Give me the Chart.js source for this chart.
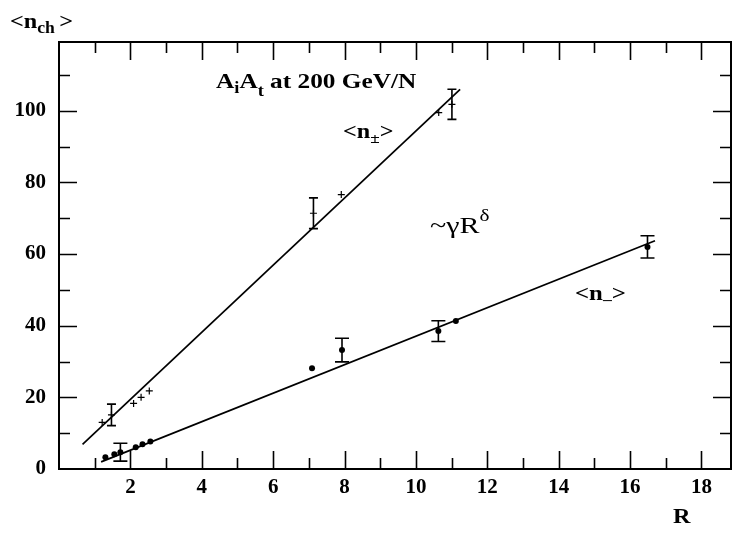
<!DOCTYPE html>
<html>
<head>
<meta charset="utf-8">
<script src="https://cdn.jsdelivr.net/npm/chart.js@4/dist/chart.umd.min.js"></script>
<style>
html,body{margin:0;padding:0;background:#ffffff;}
canvas{display:block;}
</style>
</head>
<body>
<canvas id="c" width="737" height="533"></canvas>
<script>
// ---- data ----
const plusR   = [1.21, 1.47, 2.09, 2.30, 2.53, 7.13, 7.91, 10.64, 11.01];
const plusV   = [13.0, 15.1, 18.3, 20.0, 21.8, 71.4, 76.6, 99.5, 101.8];
const plusErr = [0, 3.0, 0, 0, 0, 4.3, 0, 0, 4.2];

const minusR   = [1.30, 1.55, 1.72, 2.15, 2.34, 2.56, 7.09, 7.93, 10.63, 11.12, 16.49];
const minusV   = [3.3, 4.1, 4.7, 6.1, 6.9, 7.7, 28.1, 33.2, 38.5, 41.3, 62.0];
const minusErr = [0, 0, 2.5, 0, 0, 0, 0, 3.3, 2.9, 0, 3.1];

// fitted lines (end points)
const plusFitR  = [0.66, 11.24];
const plusFitV  = [6.9, 106.0];
const minusFitR = [1.18, 16.7];
const minusFitV = [2.0, 63.7];

const xTicks = [2, 4, 6, 8, 10, 12, 14, 16, 18];
const yTicks = [0, 20, 40, 60, 80, 100];

const toPts = (xs, ys) => xs.map((x, i) => ({x: x, y: ys[i]}));

const SERIF = "'Liberation Serif', 'DejaVu Serif', serif";

function drawRich(ctx, x, y, parts, sx) {
  // parts: [text, font, dy, extraAdvance]
  ctx.save();
  ctx.translate(x, y);
  ctx.scale(sx, 1);
  let cx = 0;
  ctx.textBaseline = 'alphabetic';
  ctx.textAlign = 'left';
  ctx.fillStyle = '#000';
  for (const p of parts) {
    ctx.font = p[1];
    ctx.fillText(p[0], cx, p[2] || 0);
    cx += ctx.measureText(p[0]).width + (p[3] || 0);
  }
  ctx.restore();
}

const framePlugin = {
  id: 'frame',
  afterDatasetsDraw(chart) {
    const ctx = chart.ctx;
    const xs = chart.scales.x, ys = chart.scales.y;
    const ds = [[plusR, plusV, plusErr, 4.5], [minusR, minusV, minusErr, 7]];
    ctx.save();
    ctx.strokeStyle = '#000';
    ctx.lineWidth = 1.6;
    for (const [R, V, E, cap] of ds) {
      for (let i = 0; i < R.length; i++) {
        if (!E[i]) continue;
        const px = xs.getPixelForValue(R[i]);
        const y1 = ys.getPixelForValue(V[i] + E[i]);
        const y2 = ys.getPixelForValue(V[i] - E[i]);
        ctx.beginPath();
        ctx.moveTo(px, y1); ctx.lineTo(px, y2);
        ctx.moveTo(px - cap, y1); ctx.lineTo(px + cap, y1);
        ctx.moveTo(px - cap, y2); ctx.lineTo(px + cap, y2);
        ctx.stroke();
      }
    }
    ctx.restore();
  },
  afterDraw(chart) {
    const ctx = chart.ctx;
    const a = chart.chartArea;
    const xs = chart.scales.x, ys = chart.scales.y;
    ctx.save();
    ctx.strokeStyle = '#000';
    ctx.lineWidth = 2;
    ctx.strokeRect(a.left, a.top, a.right - a.left, a.bottom - a.top);
    ctx.lineWidth = 1.6;
    ctx.beginPath();
    for (let r = 1; r <= 18; r++) {
      const px = Math.round(xs.getPixelForValue(r)) + 0.5;
      const len = r % 2 === 0 ? 18 : 11;
      ctx.moveTo(px, a.bottom); ctx.lineTo(px, a.bottom - len);
      ctx.moveTo(px, a.top); ctx.lineTo(px, a.top + len);
    }
    for (let v = 10; v <= 110; v += 10) {
      const py = Math.round(ys.getPixelForValue(v)) + 0.5;
      const len = v % 20 === 0 ? 18 : 11;
      ctx.moveTo(a.left, py); ctx.lineTo(a.left + len, py);
      ctx.moveTo(a.right, py); ctx.lineTo(a.right - len, py);
    }
    ctx.stroke();
    ctx.restore();

    const B = (s) => 'bold ' + s + 'px ' + SERIF;
    const N = (s) => s + 'px ' + SERIF;
    // y-axis title
    drawRich(ctx, 10, 28, [['<n', B(22)], ['ch', B(16), 5, 4], ['>', B(22)]], 1.1);
    // x-axis title
    drawRich(ctx, 673, 523, [['R', B(22)]], 1.1);
    // header
    drawRich(ctx, 216, 88, [['A', B(22)], ['i', B(16), 5], ['A', B(22)], ['t', B(16), 8], [' at 200 GeV/N', B(22)]], 1.15);
    // series labels
    drawRich(ctx, 343, 138, [['<n', B(21)], ['\u00b1', B(15), 5], ['>', B(21)]], 1.15);
    drawRich(ctx, 575, 300, [['<n', B(21)], ['\u2013', B(15), 4], ['>', B(21)]], 1.18);
    drawRich(ctx, 430, 233, [['~\u03b3R', N(24)], ['\u03b4', N(17), -12]], 1.25);
  }
};

new Chart(document.getElementById('c'), {
  type: 'scatter',
  data: {
    datasets: [
      {
        label: 'n+- fit', data: toPts(plusFitR, plusFitV), showLine: true,
        borderColor: '#000', borderWidth: 1.7, pointRadius: 0, fill: false
      },
      {
        label: 'n- fit', data: toPts(minusFitR, minusFitV), showLine: true,
        borderColor: '#000', borderWidth: 1.7, pointRadius: 0, fill: false
      },
      {
        label: '<n+->', data: toPts(plusR, plusV), showLine: false,
        pointStyle: 'cross', pointRadius: 3.5, borderColor: '#000', borderWidth: 1.2,
        backgroundColor: '#000'
      },
      {
        label: '<n->', data: toPts(minusR, minusV), showLine: false,
        pointStyle: 'circle', pointRadius: 3, borderWidth: 0,
        backgroundColor: '#000', borderColor: '#000'
      }
    ]
  },
  options: {
    responsive: false,
    animation: false,
    devicePixelRatio: 1,
    layout: { padding: { left: 0, top: 42, right: 6, bottom: 0 } },
    plugins: { legend: { display: false }, tooltip: { enabled: false } },
    scales: {
      x: {
        type: 'linear', min: 0, max: 18.83,
        grid: { display: false, drawTicks: false },
        border: { display: false },
        afterBuildTicks: (s) => { s.ticks = xTicks.map(v => ({value: v})); },
        afterFit: (s) => { s.height = 64; },
        ticks: {
          autoSkip: false, maxRotation: 0, padding: 6, color: '#000',
          font: { family: SERIF, size: 21, weight: 'bold' }
        }
      },
      y: {
        type: 'linear', min: 0, max: 119.2,
        grid: { display: false, drawTicks: false },
        border: { display: false },
        afterBuildTicks: (s) => { s.ticks = yTicks.map(v => ({value: v})); },
        afterFit: (s) => { s.width = 59; },
        ticks: {
          autoSkip: false, padding: 13, color: '#000',
          font: { family: SERIF, size: 21, weight: 'bold' }
        }
      }
    }
  },
  plugins: [framePlugin]
});
</script>
</body>
</html>
